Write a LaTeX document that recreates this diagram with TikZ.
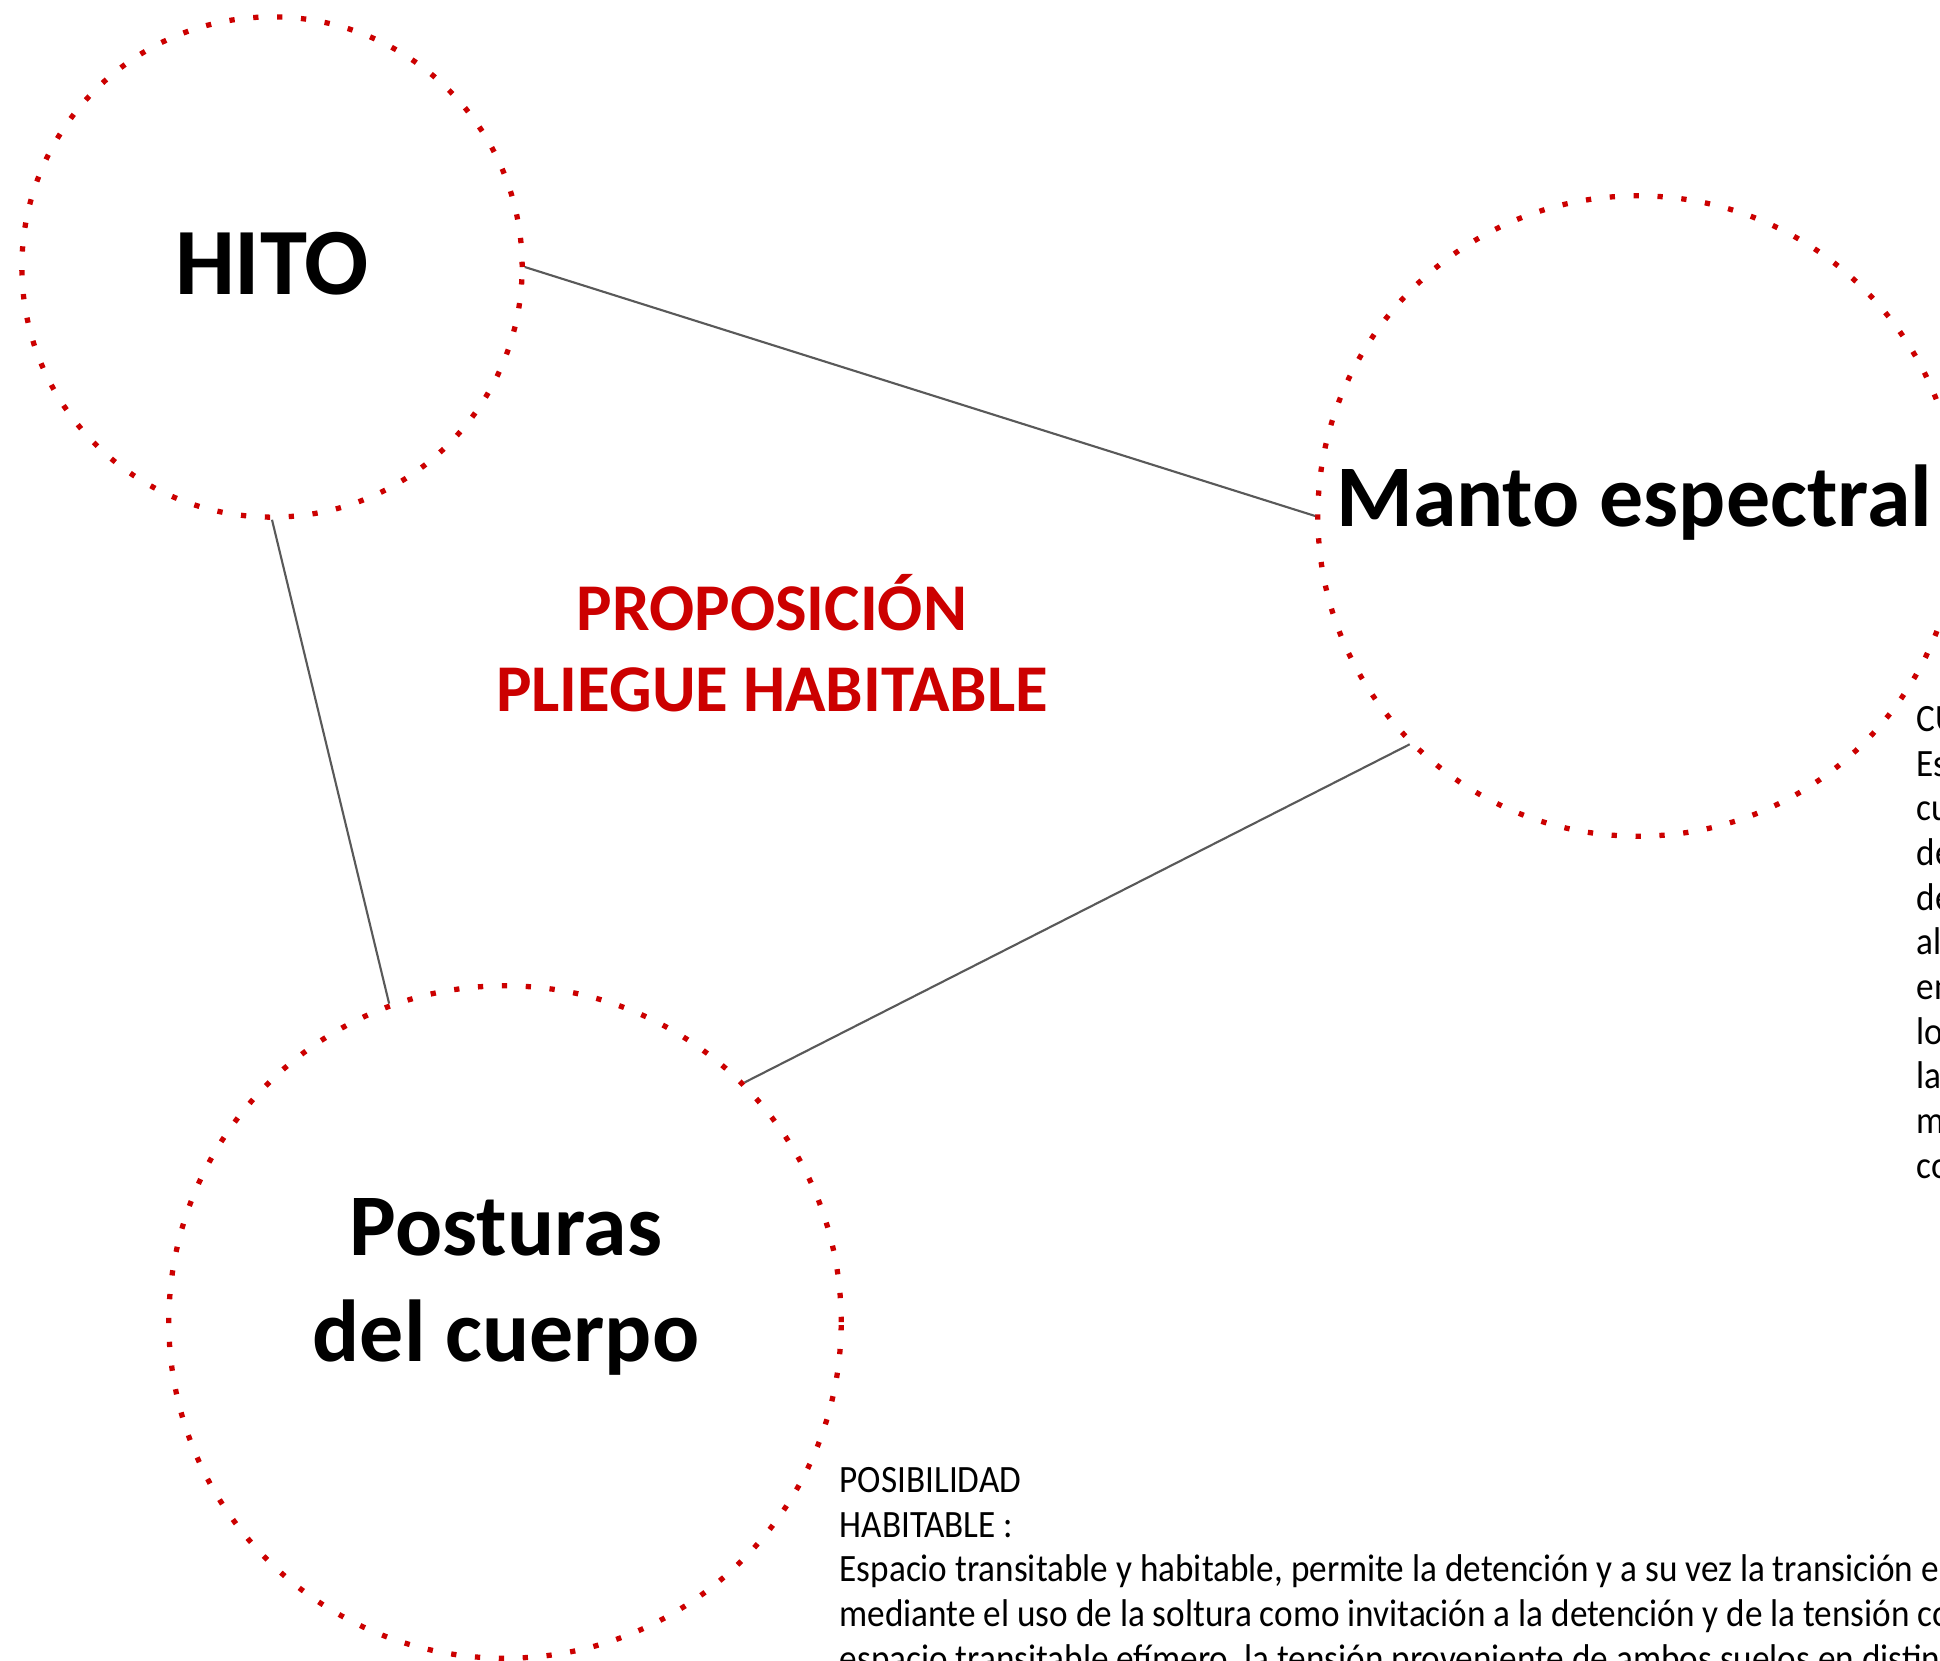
\documentclass[tikz,border=0pt]{standalone}
\usepackage{fontspec}
\setmainfont{Carlito}
\newfontfamily\notefont[FakeStretch=0.91]{Carlito}
\usetikzlibrary{calc}
\definecolor{spotred}{HTML}{CC0000}
\definecolor{linkgray}{HTML}{595959}
\tikzset{
  spot/.style={circle, draw=spotred, line width=1.5pt, dash pattern=on 1.5pt off 5.3pt, inner sep=0pt},
  link/.style={draw=linkgray, line width=0.6pt},
  title/.style={font=\bfseries\fontsize{25}{29.9}\selectfont, anchor=base, inner sep=0pt, align=center},
  claim/.style={font=\bfseries\fontsize{19}{22.8}\selectfont, text=spotred, anchor=base, inner sep=0pt, align=center},
  note/.style={font=\notefont\fontsize{11}{12.7}\selectfont, anchor=base west, inner sep=0pt, align=left}
}
\begin{document}
\begin{tikzpicture}[x=0.01cm, y=-0.01cm]
\path[use as bounding box, clip] (0,0) rectangle (1940,1660);
\fill[white] (0,0) rectangle (1940,1660);
\node[spot, minimum size=5cm] (hito) at (272,267) {};
\node[spot, minimum size=6.4cm] (manto) at (1638,516) {};
\node[spot, minimum size=6.72cm] (posturas) at (505,1322) {};
\node[title, font=\bfseries\fontsize{27}{32}\selectfont] (hitoT) at (272,294) {HITO};
\node[title, font=\bfseries\fontsize{25}{30}\selectfont] (mantoT) at (1634,526) {Manto espectral};
\node[title] (posturasT) at (506,1361) {Posturas\\del cuerpo};
\node[claim] (pliegue) at (772,711) {PROPOSICIÓN\\PLIEGUE HABITABLE};
\draw[link] (hito.east) -- (manto.west);
\draw[link] (hito.south) -- (posturas.110);
\draw[link] (manto.south west) -- (posturas.north east);
\node[note] (posibilidad) at (839,1671) {POSIBILIDAD\\HABITABLE :\\Espacio transitable y habitable, permite la detención y a su vez la transición e\\mediante el uso de la soltura como invitación a la detención y de la tensión co\\espacio transitable efímero, la tensión proveniente de ambos suelos en distin};
\node[note] (cuerpo) at (1916,1178) {CU\\Es\\cu\\de\\de\\al\\en\\lo\\la\\m\\co};
\end{tikzpicture}
\end{document}
